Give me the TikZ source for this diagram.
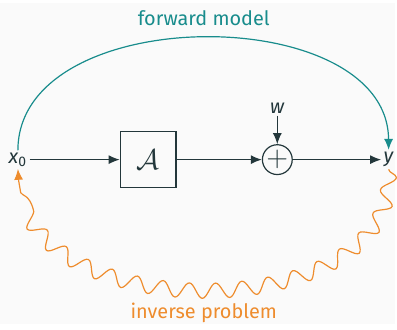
\documentclass[tikz,border=0pt]{standalone}
\usepackage{fontspec}
\setmainfont{Fira Sans}
\usetikzlibrary{arrows.meta,decorations.pathmorphing}
\definecolor{bgcol}{HTML}{FAFAFA}
\definecolor{darkteal}{HTML}{23373B}
\definecolor{fwdteal}{RGB}{24,140,140}
\definecolor{invorange}{RGB}{238,140,45}
\tikzset{
    sig/.style={draw=darkteal, line width=0.6pt, -{Latex[length=5.5pt,width=4.5pt]}},
    lbl/.style={text=darkteal, inner sep=1pt}
}
\begin{document}
\begin{tikzpicture}[x=0.5pt,y=-0.5pt]
\fill[bgcol] (0,0) rectangle (397,323);

\node[lbl] (x0) at (18,158) {\textit{x}\textsubscript{0}};
\node[
    draw=darkteal,
    line width=0.6pt,
    minimum size=28pt,
    inner sep=0pt
] (opA) at (149,158) {\color{darkteal}\Large$\mathcal{A}$};
\node[
    draw=darkteal,
    line width=0.6pt,
    circle,
    minimum size=15pt,
    inner sep=0pt
] (sum) at (279,158) {\color{darkteal}\Large$+$};
\node[lbl] (w) at (279,106) {\textit{w}};
\node[lbl] (y) at (391,158) {\textit{y}};

\draw[sig] (x0) -- (opA);
\draw[sig] (opA) -- (sum);
\draw[sig] (sum) -- (y);
\draw[sig] (w) -- (sum);

% forward model
\draw[fwdteal, line width=0.6pt, -{Latex[length=5.5pt,width=4.5pt]}]
    (x0.north) .. controls (18,-2) and (390,-2) .. (y.north);
\node[text=fwdteal] (fwd) at (205,16) {forward model};

% inverse problem
\draw[invorange, line width=0.6pt, -{Latex[length=5.5pt,width=4.5pt]},
    decorate, decoration={snake, amplitude=3.8pt, segment length=13.5pt, post length=6pt}]
    (y.south) .. controls (395,322) and (18,322) .. (x0.south);
\node[text=invorange] (inv) at (205,312) {inverse problem};
\end{tikzpicture}
\end{document}
